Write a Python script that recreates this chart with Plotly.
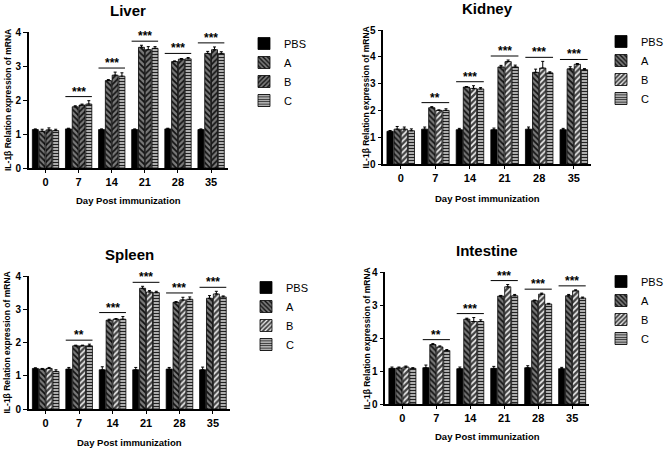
import plotly.graph_objects as go

days = ["0", "7", "14", "21", "28", "35"]
groups = ["PBS", "A", "B", "C"]
panels = ["Liver", "Kidney", "Spleen", "Intestine"]
y_max = {"Liver": 4, "Kidney": 5, "Spleen": 4, "Intestine": 4}

liver_pbs = [1.13, 1.15, 1.13, 1.13, 1.15, 1.13]
liver_a = [1.08, 1.80, 2.57, 3.55, 3.13, 3.37]
liver_b = [1.12, 1.85, 2.73, 3.48, 3.20, 3.48]
liver_c = [1.10, 1.88, 2.70, 3.52, 3.21, 3.37]
liver_pbs_err = [0.02, 0.02, 0.02, 0.02, 0.02, 0.02]
liver_a_err = [0.06, 0.03, 0.03, 0.06, 0.02, 0.06]
liver_b_err = [0.06, 0.03, 0.09, 0.09, 0.02, 0.08]
liver_c_err = [0.04, 0.10, 0.10, 0.05, 0.04, 0.05]

kidney_pbs = [1.22, 1.30, 1.28, 1.28, 1.30, 1.28]
kidney_a = [1.30, 2.10, 2.87, 3.62, 3.42, 3.55]
kidney_b = [1.30, 2.00, 2.82, 3.82, 3.58, 3.72]
kidney_c = [1.24, 2.00, 2.80, 3.62, 3.40, 3.52]
kidney_pbs_err = [0.03, 0.08, 0.05, 0.06, 0.08, 0.05]
kidney_a_err = [0.10, 0.04, 0.02, 0.06, 0.12, 0.08]
kidney_b_err = [0.08, 0.02, 0.10, 0.06, 0.25, 0.03]
kidney_c_err = [0.07, 0.06, 0.05, 0.07, 0.04, 0.04]

spleen_pbs = [1.22, 1.20, 1.18, 1.18, 1.20, 1.18]
spleen_a = [1.20, 1.90, 2.67, 3.63, 3.21, 3.33]
spleen_b = [1.22, 1.90, 2.70, 3.52, 3.28, 3.46]
spleen_c = [1.13, 1.90, 2.70, 3.50, 3.30, 3.37]
spleen_pbs_err = [0.02, 0.05, 0.09, 0.07, 0.05, 0.08]
spleen_a_err = [0.02, 0.02, 0.03, 0.06, 0.02, 0.08]
spleen_b_err = [0.03, 0.02, 0.02, 0.04, 0.08, 0.08]
spleen_c_err = [0.05, 0.05, 0.08, 0.04, 0.07, 0.03]

intestine_pbs = [1.08, 1.10, 1.07, 1.08, 1.10, 1.07]
intestine_a = [1.09, 1.80, 2.57, 3.27, 3.13, 3.28]
intestine_b = [1.12, 1.73, 2.50, 3.55, 3.33, 3.43]
intestine_c = [1.08, 1.62, 2.50, 3.28, 3.03, 3.21]
intestine_pbs_err = [0.04, 0.08, 0.05, 0.06, 0.06, 0.04]
intestine_a_err = [0.03, 0.03, 0.03, 0.02, 0.02, 0.04]
intestine_b_err = [0.03, 0.03, 0.12, 0.07, 0.03, 0.03]
intestine_c_err = [0.02, 0.03, 0.05, 0.04, 0.02, 0.03]

liver_sig = ["", "***", "***", "***", "***", "***"]
kidney_sig = ["", "**", "***", "***", "***", "***"]
spleen_sig = ["", "**", "***", "***", "***", "***"]
intestine_sig = ["", "**", "***", "***", "***", "***"]

x_title = "Day Post immunization"
y_title = "IL-1β Relation expression of mRNA"

values = {
    "Liver": [liver_pbs, liver_a, liver_b, liver_c],
    "Kidney": [kidney_pbs, kidney_a, kidney_b, kidney_c],
    "Spleen": [spleen_pbs, spleen_a, spleen_b, spleen_c],
    "Intestine": [intestine_pbs, intestine_a, intestine_b, intestine_c],
}
errors = {
    "Liver": [liver_pbs_err, liver_a_err, liver_b_err, liver_c_err],
    "Kidney": [kidney_pbs_err, kidney_a_err, kidney_b_err, kidney_c_err],
    "Spleen": [spleen_pbs_err, spleen_a_err, spleen_b_err, spleen_c_err],
    "Intestine": [intestine_pbs_err, intestine_a_err, intestine_b_err, intestine_c_err],
}
sigs = {"Liver": liver_sig, "Kidney": kidney_sig, "Spleen": spleen_sig, "Intestine": intestine_sig}

W, H = 669, 451
# pixel boxes (left, right, top, bottom) of each plot area
boxes = {
    "Liver": (29, 228, 32, 168),
    "Kidney": (384, 592, 30, 164),
    "Spleen": (29, 230, 276, 409),
    "Intestine": (386, 590, 272, 404),
}
# title y, x-title y, y-title x (pixels)
labels_pos = {
    "Liver": (10, 200, 8),
    "Kidney": (9, 199, 367),
    "Spleen": (254, 442, 7),
    "Intestine": (250, 436, 368),
}
legend_pos = {
    "Liver": (244, 29),
    "Kidney": (602, 27),
    "Spleen": (246, 273),
    "Intestine": (601, 267),
}

FONT = "Liberation Sans, Arial, sans-serif"


def styles(panel):
    b_light = panel != "Liver"
    return [
        dict(color="#000000", pattern=dict(shape="")),
        dict(color="#7a7a7a", pattern=dict(shape="\\", fillmode="replace", bgcolor="#7a7a7a",
                                           fgcolor="#111111", size=4, solidity=0.45)),
        (dict(color="#555555", pattern=dict(shape="/", fillmode="replace", bgcolor="#444444",
                                            fgcolor="#f2f2f2", size=4, solidity=0.4))
         if b_light else
         dict(color="#7a7a7a", pattern=dict(shape="/", fillmode="replace", bgcolor="#7a7a7a",
                                            fgcolor="#111111", size=4, solidity=0.45))),
        dict(color="#b5b5b5", pattern=dict(shape="-", fillmode="replace", bgcolor="#bdbdbd",
                                           fgcolor="#222222", size=3, solidity=0.4)),
    ]


fig = go.Figure()
shapes = []
annotations = []
layout_extra = {}

for k, panel in enumerate(panels):
    idx = "" if k == 0 else str(k + 1)
    xa, ya = "x" + idx, "y" + idx
    leg = "legend" + idx
    st = styles(panel)
    for g, name in enumerate(groups):
        s = st[g]
        marker = dict(color=s["color"], line=dict(color="#000000", width=0.8))
        if s["pattern"]["shape"]:
            marker["pattern"] = s["pattern"]
        fig.add_trace(go.Bar(
            x=days, y=values[panel][g], name=name, xaxis=xa, yaxis=ya, legend=leg,
            marker=marker,
            error_y=dict(type="data", array=errors[panel][g], arrayminus=[0] * len(days),
                         symmetric=False, color="#000000", thickness=1, width=1.5),
        ))
    l, r, t, b = boxes[panel]
    ymax = y_max[panel]
    layout_extra["xaxis" + idx] = dict(
        domain=[l / W, r / W], anchor=ya, type="category", range=[-0.5, 5.5],
        showline=True, linecolor="#000000", linewidth=1.6, ticks="outside", ticklen=3,
        tickcolor="#000000", tickwidth=1.2,
        tickfont=dict(family=FONT, size=11, color="#000000", weight="bold"),
        showgrid=False, zeroline=False, automargin=False,
    )
    layout_extra["yaxis" + idx] = dict(
        domain=[1 - b / H, 1 - t / H], anchor=xa, range=[0, ymax], dtick=1,
        showline=True, linecolor="#000000", linewidth=1.6, ticks="outside", ticklen=4,
        tickcolor="#000000", tickwidth=1.2,
        tickfont=dict(family=FONT, size=10, color="#000000", weight="bold"),
        showgrid=False, zeroline=False, automargin=False,
    )
    lx, ly = legend_pos[panel]
    layout_extra[leg] = dict(
        x=lx / W, y=1 - ly / H, xanchor="left", yanchor="top", xref="paper", yref="paper",
        font=dict(family=FONT, size=11, color="#000000"), bgcolor="rgba(0,0,0,0)",
        tracegroupgap=0, itemwidth=30,
    )
    ty, xty, ytx = labels_pos[panel]
    annotations.append(dict(
        text="<b>%s</b>" % panel, x=0.5, y=1 - ty / H, xref=xa + " domain", yref="paper",
        showarrow=False, font=dict(family=FONT, size=15, color="#000000"),
        xanchor="center", yanchor="middle",
    ))
    annotations.append(dict(
        text="<b>%s</b>" % x_title, x=0.5, y=1 - xty / H, xref=xa + " domain", yref="paper",
        showarrow=False, font=dict(family=FONT, size=9.5, color="#000000"),
        xanchor="center", yanchor="middle",
    ))
    annotations.append(dict(
        text="<b>%s</b>" % y_title, x=ytx / W, y=0.5, xref="paper", yref=ya + " domain",
        showarrow=False, textangle=-90, font=dict(family=FONT, size=8.5, color="#000000"),
        xanchor="center", yanchor="middle",
    ))
    off = 0.03 * ymax
    for i, day in enumerate(days):
        lab = sigs[panel][i]
        if not lab:
            continue
        top = max(values[panel][g][i] + errors[panel][g][i] for g in range(1, 4))
        ly_ = top + off
        shapes.append(dict(type="line", xref=xa, yref=ya, x0=i - 0.4, x1=i + 0.4,
                           y0=ly_, y1=ly_, line=dict(color="#000000", width=1)))
        annotations.append(dict(text="<b>%s</b>" % lab, x=i, y=ly_, xref=xa, yref=ya,
                                showarrow=False, yanchor="bottom", yshift=-4,
                                font=dict(family=FONT, size=12, color="#000000")))

fig.update_layout(
    width=W, height=H, margin=dict(l=0, r=0, t=0, b=0),
    paper_bgcolor="#ffffff", plot_bgcolor="#ffffff",
    barmode="group", bargap=0.18, bargroupgap=0.12,
    showlegend=True, shapes=shapes, annotations=annotations,
    **layout_extra,
)

fig.write_html("out.html", config={"displayModeBar": False},
               post_script="document.body.style.margin='0';")
